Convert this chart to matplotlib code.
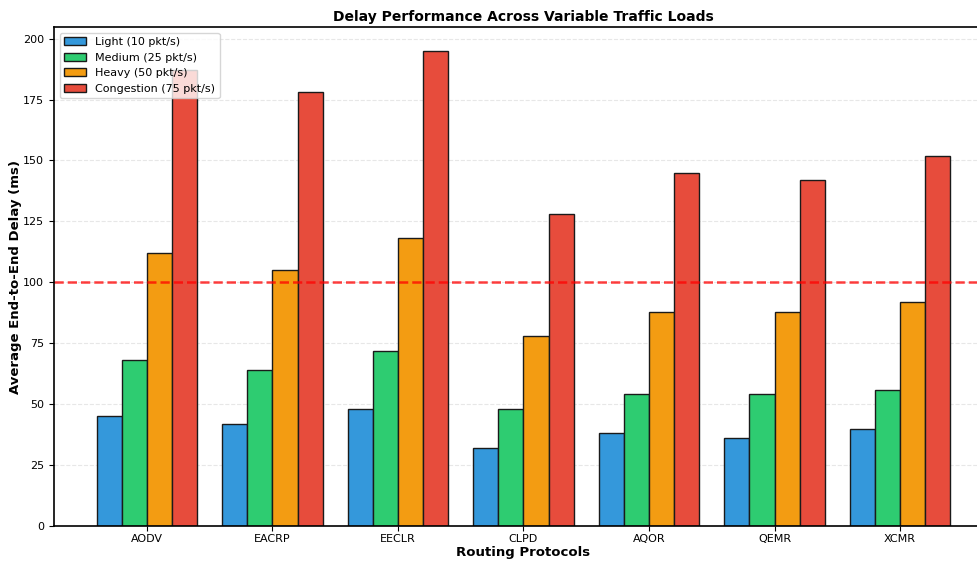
import numpy as np
import matplotlib
matplotlib.use('Agg')
import matplotlib.pyplot as plt

# data
protocols = ['AODV', 'EACRP', 'EECLR', 'CLPD', 'AQOR', 'QEMR', 'XCMR']
light = [45, 42, 48, 32, 38, 36, 40]
medium = [68, 64, 72, 48, 54, 54, 56]
heavy = [112, 105, 118, 78, 88, 88, 92]
congestion = [187, 178, 195, 128, 145, 142, 152]
load_labels = ['Light (10 pkt/s)', 'Medium (25 pkt/s)', 'Heavy (50 pkt/s)', 'Congestion (75 pkt/s)']
colors = ['#3498db', '#2ecc71', '#f39c12', '#e74c3c']
threshold = 100

fig = plt.figure(figsize=(9.78, 5.61), dpi=100)
# axes runs a bit past the right edge, like the cropped reference
ax = fig.add_axes([54/978, 35/561, 939/978, 499/561])

x = np.arange(len(protocols))
w = 0.2
series = [light, medium, heavy, congestion]
for i, (vals, lab, c) in enumerate(zip(series, load_labels, colors)):
    ax.bar(x + (i - 1.5) * w, vals, w, label=lab, color=c, edgecolor='#1a1a1a', linewidth=1.0)

ax.axhline(threshold, color='red', linestyle='--', linewidth=1.8, alpha=0.75)

ax.set_xticks(x)
ax.set_xticklabels(protocols, fontsize=8)
ax.tick_params(axis='x', pad=2.5)
ax.tick_params(axis='y', labelsize=8)
ax.set_ylim(0, max(congestion) * 1.05)
ax.set_yticks(np.arange(0, 201, 25))
ax.grid(axis='y', linestyle='--', alpha=0.3)
ax.set_axisbelow(True)

ax.set_title('Delay Performance Across Variable Traffic Loads', fontsize=10, fontweight='bold', pad=4)
ax.set_xlabel('Routing Protocols', fontsize=9.5, fontweight='bold', labelpad=1)
ax.set_ylabel('Average End-to-End Delay (ms)', fontsize=9.5, fontweight='bold', labelpad=1)
ax.legend(loc='upper left', fontsize=8, framealpha=0.8)

for s in ax.spines.values():
    s.set_linewidth(1.2)

plt.savefig('out.png', dpi=100)
